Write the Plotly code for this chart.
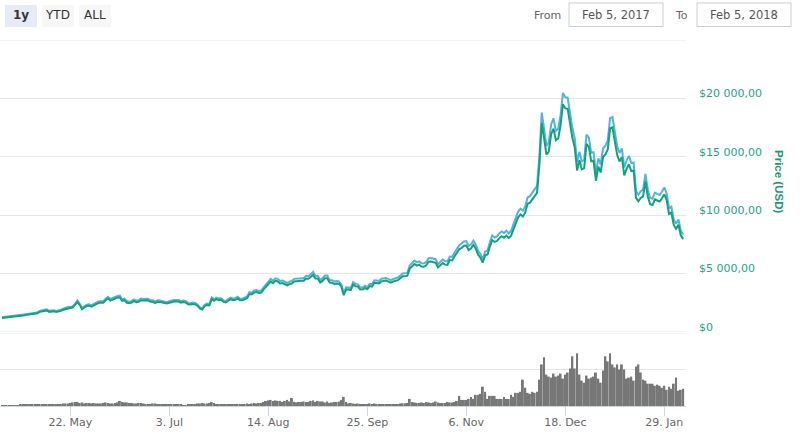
import pandas as pd
import plotly.graph_objects as go

# ---------------- data ----------------
dates = pd.date_range("2017-04-23", "2018-02-06", freq="D")

price_green = [
    1200, 1220, 1240, 1260, 1290, 1320, 1310, 1320,  # Apr
    1348, 1421, 1452, 1490, 1537, 1555, 1578, 1596, 1725, 1756,
    1787, 1848, 1725, 1772, 1776, 1724, 1739, 1807, 1899, 1961,
    2052, 2047, 2091, 2287, 2560, 2304, 1950, 2100, 2230, 2255, 2175,  # May
    2286, 2407, 2488, 2515, 2512, 2712, 2869, 2693, 2794, 2823,
    2947, 2958, 2660, 2717, 2506, 2464, 2518, 2655, 2548, 2590,
    2721, 2689, 2706, 2710, 2589, 2590, 2479, 2593, 2574, 2540,  # Jun
    2480, 2434, 2506, 2564, 2601, 2602, 2608, 2518, 2572, 2518,
    2373, 2353, 2404, 2364, 2233, 1998, 1929, 2229, 2318, 2274,
    2817, 2668, 2810, 2730, 2755, 2576, 2530, 2672, 2810, 2726, 2758,  # Jul
    2875, 2718, 2710, 2804, 2895, 3252, 3213, 3379, 3419, 3342,
    3381, 3650, 3884, 4073, 4325, 4182, 4376, 4331, 4160, 4194,
    4088, 4001, 4100, 4151, 4334, 4371, 4352, 4382, 4382, 4579, 4565,  # Aug
    4703, 4892, 4578, 4582, 4236, 4376, 4597, 4599, 4228, 4226,
    4122, 4161, 4130, 3882, 3155, 3638, 3630, 3582, 4065, 3925,
    3906, 3631, 3631, 3780, 3657, 3927, 3892, 4210, 4193, 4165,  # Sep
    4339, 4404, 4409, 4317, 4229, 4328, 4371, 4437, 4611, 4773,
    4782, 4820, 5430, 5649, 5823, 5683, 5763, 5605, 5591, 5708,
    6012, 6031, 6009, 5930, 5527, 5750, 5904, 5780, 5753, 6154, 6131,  # Oct
    6468, 6768, 7079, 7207, 7379, 7407, 7022, 7144, 7459, 7143,
    6618, 6357, 5950, 6559, 6635, 7315, 7871, 7708, 7790, 8036,
    8200, 8071, 8253, 8038, 8253, 8791, 9330, 9818, 10058, 9888,  # Nov
    10233, 10975, 11075, 11323, 11657, 11916, 14291, 17899, 16570, 15178,
    15455, 16937, 17415, 16408, 16564, 17706, 19498, 19141, 19115, 17777,
    16625, 15803, 13831, 14700, 13926, 14027, 16100, 15839, 14607, 14656, 12953,  # Dec
    14157, 13657, 14982, 15201, 15599, 17429, 17527, 16477, 15170, 14595,
    14973, 13406, 13980, 14361, 13773, 13820, 11490, 11188, 11475, 11607,
    12899, 11601, 10932, 10868, 11359, 11260, 11171, 11440, 11787, 11297, 10107,  # Jan
    10221, 9170, 8831, 9175, 8277, 7950,  # Feb
]

price_blue = [
    1260, 1280, 1300, 1320, 1350, 1390, 1380, 1390,  # Apr
    1420, 1490, 1520, 1560, 1610, 1630, 1660, 1680, 1810, 1840,
    1880, 1940, 1810, 1860, 1860, 1810, 1830, 1900, 1990, 2060,
    2150, 2150, 2200, 2400, 2690, 2420, 2050, 2210, 2340, 2370, 2280,  # May
    2400, 2530, 2610, 2640, 2640, 2850, 3010, 2830, 2930, 2960,
    3090, 3110, 2790, 2850, 2630, 2590, 2640, 2790, 2680, 2720,
    2860, 2820, 2840, 2850, 2720, 2720, 2600, 2720, 2700, 2670,  # Jun
    2600, 2560, 2630, 2690, 2730, 2730, 2740, 2640, 2700, 2640,
    2490, 2470, 2520, 2480, 2340, 2100, 2030, 2340, 2430, 2390,
    2960, 2800, 2950, 2870, 2890, 2700, 2660, 2810, 2950, 2860, 2900,  # Jul
    3020, 2850, 2850, 2940, 3040, 3410, 3370, 3550, 3590, 3510,
    3550, 3830, 4080, 4280, 4540, 4390, 4590, 4550, 4370, 4400,
    4290, 4200, 4310, 4360, 4550, 4590, 4570, 4600, 4600, 4810, 4790,  # Aug
    4940, 5140, 4810, 4810, 4450, 4590, 4830, 4830, 4440, 4440,
    4330, 4370, 4340, 4080, 3310, 3820, 3810, 3760, 4270, 4120,
    4100, 3810, 3810, 3970, 3840, 4120, 4090, 4420, 4400, 4370,  # Sep
    4560, 4620, 4630, 4530, 4440, 4540, 4590, 4660, 4840, 5010,
    5020, 5060, 5700, 5930, 6110, 5970, 6050, 5890, 5870, 5990,
    6310, 6330, 6310, 6230, 5800, 6040, 6200, 6070, 6040, 6460, 6440,  # Oct
    6790, 7110, 7430, 7570, 7750, 7780, 7370, 7500, 7830, 7500,
    6950, 6670, 6250, 6890, 6970, 7680, 8260, 8090, 8180, 8440,
    8610, 8470, 8670, 8440, 8670, 9230, 9800, 10310, 10560, 10380,  # Nov
    10740, 11520, 11630, 11890, 12240, 12510, 15010, 18790, 17400, 15940,
    16230, 17780, 18290, 17230, 17390, 18590, 20470, 20100, 20070, 18670,
    17460, 16590, 14520, 15440, 14620, 14730, 16910, 16630, 15340, 15390, 13600,  # Dec
    14870, 14340, 15730, 15960, 16380, 18300, 18400, 17300, 15930, 15320,
    15720, 14080, 14680, 15080, 14460, 14510, 12060, 11750, 12050, 12190,
    13540, 12180, 11480, 11410, 11930, 11820, 11730, 12010, 12380, 11860, 10610,  # Jan
    10730, 9630, 9270, 9630, 8690, 8350,  # Feb
]

volume_musd = [
    90, 100, 110, 100, 120, 110, 100, 110,  # Apr
    250, 380, 250, 380, 250, 250, 250, 380, 500, 500,
    500, 380, 250, 250, 380, 380, 500, 500, 620, 620,
    620, 750, 880, 1000, 1000, 750, 880, 620, 750, 750, 620,  # May
    750, 620, 620, 620, 750, 880, 750, 620, 620, 750,
    880, 1250, 1000, 880, 880, 750, 750, 620, 620, 750,
    750, 620, 500, 500, 500, 620, 620, 500, 380, 380,  # Jun
    380, 380, 380, 380, 380, 380, 380, 380, 120, 120,
    380, 500, 380, 500, 620, 620, 750, 620, 620, 750,
    1000, 750, 500, 500, 500, 500, 380, 500, 380, 380, 500,  # Jul
    500, 500, 500, 500, 620, 500, 620, 750, 620, 750,
    750, 1000, 1250, 1380, 1500, 1250, 1380, 1250, 1250, 1000,
    1250, 1500, 1120, 2000, 1000, 880, 1000, 1000, 1120, 1000, 1000,  # Aug
    1250, 1380, 1000, 1250, 1120, 1120, 880, 1120, 750, 880,
    1000, 1000, 1120, 1500, 2250, 1000, 620, 750, 620, 500,
    620, 500, 500, 380, 500, 620, 500, 620, 500, 500,  # Sep
    500, 500, 500, 500, 380, 500, 380, 500, 620, 680,
    680, 750, 1750, 1000, 880, 750, 750, 880, 750, 1000,
    880, 750, 880, 1120, 880, 750, 750, 750, 1000, 880, 880,  # Oct
    1000, 1250, 2500, 1500, 1500, 1500, 1750, 2250, 1750, 2750,
    2750, 3000, 4750, 3500, 1750, 2500, 2500, 2500, 1750, 1750,
    1750, 2250, 1750, 1750, 2750, 2250, 3250, 3250, 3500, 6500,  # Nov
    4500, 3250, 3000, 3500, 3250, 3500, 6500, 10250, 12000, 7750,
    7250, 7000, 8000, 7250, 7500, 8000, 6750, 7750, 8250, 9250,
    12250, 9250, 13000, 7750, 6250, 5750, 7500, 6750, 7000, 7250, 8250,  # Dec
    6750, 5750, 8750, 12250, 11000, 13000, 10250, 9500, 10250, 9000,
    10250, 9000, 6750, 7000, 7250, 6250, 9750, 10250, 8250, 6500,
    6250, 5500, 5500, 5500, 5000, 5250, 5000, 4500, 5000, 4000, 4750,  # Jan
    4250, 5500, 7000, 3750, 4000, 4250,  # Feb
]

x_tick_dates = ["2017-05-22", "2017-07-03", "2017-08-14", "2017-09-25",
                "2017-11-06", "2017-12-18", "2018-01-29"]
x_tick_labels = ["22. May", "3. Jul", "14. Aug", "25. Sep", "6. Nov", "18. Dec", "29. Jan"]
price_ticks = [0, 5000, 10000, 15000, 20000, 25000]
price_tick_labels = ["$0", "$5 000,00", "$10 000,00", "$15 000,00", "$20 000,00", ""]
price_max = 25000
volume_ticks = [0, 9000, 18000]
range_buttons = ["1y", "YTD", "ALL"]
from_text, to_text = "Feb 5, 2017", "Feb 5, 2018"
axis_title = "Price (USD)"

assert len(dates) == len(price_green) == len(price_blue) == len(volume_musd)

# ---------------- layout geometry ----------------
W, H = 803, 436
ML, MR, MT, MB = 0, 117, 40, 30
PW, PH = W - ML - MR, H - MT - MB


def px(xp):
    return (xp - ML) / PW


def py(yp):
    return (H - MB - yp) / PH


FONT = "DejaVu Sans"
GREEN = "#16a07a"
BLUE = "#4fb4e4"
LABEL = "#24a287"
GRID = "#e6e6e6"

fig = go.Figure()
fig.add_trace(go.Bar(x=dates, y=volume_musd, xaxis="x", yaxis="y2",
                     marker=dict(color="#777777", line=dict(width=0)),
                     showlegend=False, hoverinfo="skip"))
fig.add_trace(go.Scatter(x=dates, y=price_blue, mode="lines", xaxis="x", yaxis="y",
                         line=dict(color=BLUE, width=2), showlegend=False))
fig.add_trace(go.Scatter(x=dates, y=price_green, mode="lines", xaxis="x", yaxis="y",
                         line=dict(color=GREEN, width=2), showlegend=False))

price_bottom = py(332)
vol_top = py(333)

fig.update_layout(
    width=W, height=H, autosize=False,
    margin=dict(l=ML, r=MR, t=MT, b=MB),
    paper_bgcolor="white", plot_bgcolor="white",
    font=dict(family=FONT, size=11, color="#666666"),
    bargap=0.18,
    xaxis=dict(type="date", range=["2017-04-22 04:00", "2018-02-07 05:00"],
               anchor="y2", tickmode="array", tickvals=x_tick_dates, ticktext=x_tick_labels,
               ticks="outside", ticklen=9, tickcolor="#ccd6eb", tickwidth=1,
               showline=True, linecolor="#ccd6eb", linewidth=1,
               showgrid=False, zeroline=False,
               tickfont=dict(family=FONT, size=11, color="#666666"),
               ticklabelstandoff=-3),
    yaxis=dict(domain=[price_bottom, 1], range=[0, price_max], side="right", anchor="x",
               tickmode="array", tickvals=price_ticks, ticktext=price_tick_labels,
               showgrid=True, gridcolor=GRID, gridwidth=1,
               zeroline=False, showline=False, ticks="",
               tickfont=dict(family=FONT, size=11, color=LABEL),
               ticklabelshift=-5, ticklabelstandoff=12),
    yaxis2=dict(domain=[0, vol_top], range=[0, volume_ticks[-1]], anchor="x",
                tickmode="array", tickvals=volume_ticks, showticklabels=False,
                showgrid=True, gridcolor=GRID, gridwidth=1,
                zeroline=False, showline=False, ticks=""),
)

shapes = []
annotations = []

# edge grid lines (plotly omits grid lines at the very ends of the range)
for yref, yv in [("y", 0), ("y", price_max), ("y2", volume_ticks[-1])]:
    shapes.append(dict(type="line", xref="paper", yref=yref, x0=0, x1=1, y0=yv, y1=yv,
                       line=dict(color=GRID, width=1), layer="below"))

# range selector buttons
btn_boxes = [(5, 37), (42, 74), (79, 111)]
for i, (label, (x0, x1)) in enumerate(zip(range_buttons, btn_boxes)):
    shapes.append(dict(type="rect", xref="paper", yref="paper",
                       x0=px(x0), x1=px(x1), y0=py(27), y1=py(5),
                       fillcolor="#e6ebf5" if i == 0 else "#f7f7f7",
                       line=dict(width=0), layer="below"))
    annotations.append(dict(xref="paper", yref="paper", x=px((x0 + x1) / 2), y=py(15),
                            text=f"<b>{label}</b>" if i == 0 else label, showarrow=False,
                            xanchor="center", yanchor="middle",
                            font=dict(family=FONT, size=12, color="#333333")))

# date inputs
for lbl, lx, txt, (bx0, bx1) in [("From", 547, from_text, (569, 663)),
                                 ("To", 681, to_text, (697, 791))]:
    annotations.append(dict(xref="paper", yref="paper", x=px(lx), y=py(15),
                            text=lbl, showarrow=False, xanchor="center", yanchor="middle",
                            font=dict(family=FONT, size=11, color="#666666")))
    shapes.append(dict(type="rect", xref="paper", yref="paper",
                       x0=px(bx0), x1=px(bx1), y0=py(26.5), y1=py(3),
                       fillcolor="white", line=dict(color="#cccccc", width=1)))
    annotations.append(dict(xref="paper", yref="paper", x=px((bx0 + bx1) / 2), y=py(15),
                            text=txt, showarrow=False, xanchor="center", yanchor="middle",
                            font=dict(family=FONT, size=11.5, color="#555555")))

# axis title
annotations.append(dict(xref="paper", yref="paper", x=px(779), y=py(182),
                        text=f"<b>{axis_title}</b>", showarrow=False, textangle=90,
                        xanchor="center", yanchor="middle",
                        font=dict(family="Liberation Sans", size=11.5, color="#129a6c")))

fig.update_layout(shapes=shapes, annotations=annotations)
fig.write_html("out.html")
